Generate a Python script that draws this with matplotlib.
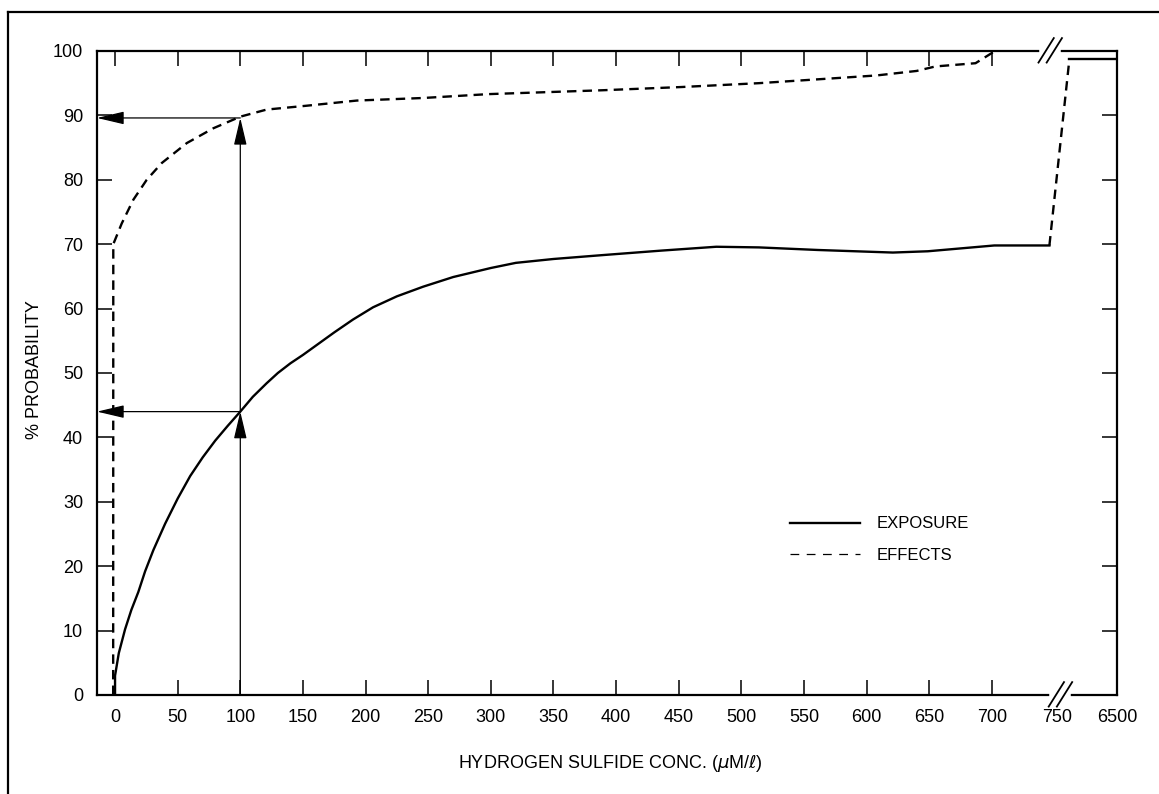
import matplotlib
matplotlib.use("Agg")
import matplotlib.pyplot as plt
from matplotlib.lines import Line2D

plt.rcParams["font.family"] = ["Liberation Sans", "DejaVu Sans"]

# values (x past 700 sits on the broken axis: 800 == 6500)
exposure_x = [0, 0, 3, 8, 13, 18.6, 24, 30.6, 40, 50, 60, 70, 80, 90, 100, 110,
              121, 130, 140, 150, 160, 175, 190, 206, 225, 246, 270, 300, 320,
              350, 389, 436, 480, 514, 561, 621, 649, 702, 746]
exposure_y = [0, 3, 6.5, 10.2, 13.2, 16, 19.2, 22.5, 26.6, 30.5, 34.0, 36.9, 39.5,
              41.8, 44, 46.3, 48.4, 50.0, 51.5, 52.8, 54.2, 56.3, 58.3, 60.2, 61.9,
              63.4, 64.9, 66.3, 67.1, 67.7, 68.3, 69.0, 69.6, 69.5, 69.1, 68.7,
              68.9, 69.8, 69.8]

effects_x = [-1.5, -1.4, 5.3, 14.6, 25.3, 37.3, 57.3, 78.5, 100, 121, 153, 193,
             246, 298, 389, 452, 514, 577, 608, 640, 655, 687, 701]
effects_y = [0, 70, 73.2, 76.9, 80, 82.6, 85.7, 88, 89.8, 90.9, 91.5, 92.3,
             92.7, 93.3, 93.9, 94.4, 95.0, 95.8, 96.2, 96.9, 97.6, 98.1, 99.8]

# exposure jump across the break and the 6500 segment
jump_x = [746, 762]
jump_y = [69.8, 98.8]
tail_x = [762, 800]
tail_y = [98.8, 98.8]

# read-off arrows at 100 uM
read_x = 100
read_levels = [44, 89.6]

xtick_pos = [0, 50, 100, 150, 200, 250, 300, 350, 400, 450, 500, 550, 600, 650, 700, 752, 800]
xtick_lab = ["0", "50", "100", "150", "200", "250", "300", "350", "400", "450",
             "500", "550", "600", "650", "700", "750", "6500"]
ytick_pos = list(range(0, 101, 10))

fig = plt.figure(figsize=(11.59, 7.94), dpi=100)
ax = fig.add_axes([0.0837, 0.1247, 0.8801, 0.8111])

ax.plot(exposure_x, exposure_y, color="black", lw=1.7, solid_joinstyle="round")
ax.plot(effects_x, effects_y, color="black", lw=1.7, dashes=(4, 2.6))
ax.plot(jump_x, jump_y, color="black", lw=1.7, dashes=(4, 2.6))
ax.plot(tail_x, tail_y, color="black", lw=1.7)

xmin = -14.4
arrow = dict(arrowstyle="-|>,head_length=1.4,head_width=0.33", color="black",
             lw=0.9, shrinkA=0, shrinkB=0, mutation_scale=12)
prev = 0
for lev in read_levels:
    ax.annotate("", xy=(xmin, lev), xytext=(read_x, lev), arrowprops=arrow)
    ax.annotate("", xy=(read_x, lev), xytext=(read_x, prev), arrowprops=arrow)
    prev = lev

ax.set_xlim(xmin, 800)
ax.set_ylim(0, 100)

ax.set_xticks(xtick_pos)
ax.set_xticklabels(xtick_lab)
ax.set_yticks(ytick_pos)
ax.tick_params(direction="in", length=11, width=1.1, labelsize=13,
               top=True, right=True, colors="black")
ax.tick_params(axis="x", pad=10)
ax.tick_params(axis="y", pad=10)
for t in ax.xaxis.get_major_ticks()[-2:]:
    t.tick1line.set_visible(False)
    t.tick2line.set_visible(False)

for s in ax.spines.values():
    s.set_linewidth(1.6)

# axis break marks
for xb, yb in [(0.944, 0.0), (0.934, 1.0)]:
    ax.plot([xb - 0.008, xb + 0.008], [yb, yb], color="white", lw=4,
            transform=ax.transAxes, clip_on=False, zorder=5)
    for off in (-0.004, 0.004):
        ax.plot([xb + off - 0.007, xb + off + 0.008], [yb - 0.018, yb + 0.02],
                color="black", lw=1.3, transform=ax.transAxes, clip_on=False, zorder=6)

ax.set_xlabel("HYDROGEN SULFIDE CONC. ($\\mu$M/$\\ell$)", fontsize=13)
ax.xaxis.set_label_coords(0.503, -0.09)
ax.set_ylabel("% PROBABILITY", fontsize=13)
ax.yaxis.set_label_coords(-0.053, 0.505)

handles = [Line2D([], [], color="black", lw=1.7),
           Line2D([], [], color="black", lw=0.9, dashes=(7, 6))]
ax.legend(handles, ["EXPOSURE", "EFFECTS"], loc="center left",
          bbox_to_anchor=(0.679, 0.241), frameon=False, fontsize=12,
          handlelength=4.2, handletextpad=1.0, labelspacing=1.0,
          borderpad=0, borderaxespad=0)

# outer frame of the scanned figure
fig.add_artist(Line2D([8 / 1159, 8 / 1159], [0, 1 - 12 / 794], color="black", lw=1.6))
fig.add_artist(Line2D([8 / 1159, 1], [1 - 12 / 794, 1 - 12 / 794], color="black", lw=1.6))

fig.savefig("out.png", dpi=100)
